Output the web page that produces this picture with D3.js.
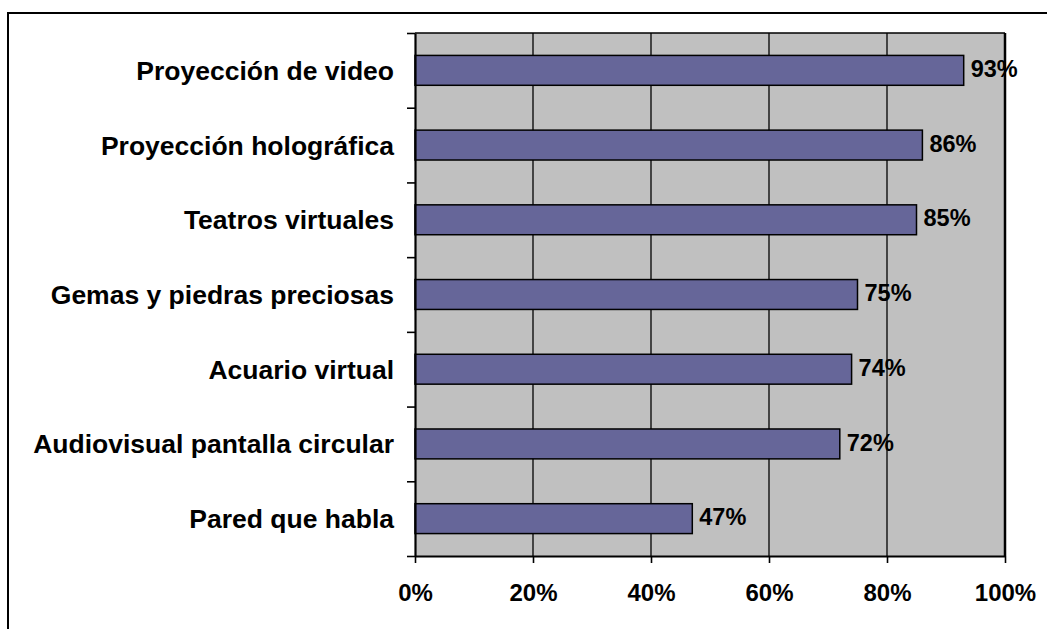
<!DOCTYPE html>
<html>
<head>
<meta charset="utf-8">
<script src="https://cdn.jsdelivr.net/npm/d3@7"></script>
<style>
  html, body { margin: 0; padding: 0; background: #fff; }
  svg { display: block; }
  text { font-family: "Liberation Sans", Arial, sans-serif; font-weight: bold; fill: #000; }
</style>
</head>
<body>
<svg id="chart" width="1047" height="629"></svg>
<script>
const categories = [
  "Proyección de video",
  "Proyección holográfica",
  "Teatros virtuales",
  "Gemas y piedras preciosas",
  "Acuario virtual",
  "Audiovisual pantalla circular",
  "Pared que habla"
];
const values = [0.93, 0.86, 0.85, 0.75, 0.74, 0.72, 0.47];
const valueLabels = ["93%", "86%", "85%", "75%", "74%", "72%", "47%"];
const xTicks = [0, 0.2, 0.4, 0.6, 0.8, 1.0];

(function () {
const svg = d3.select("#chart");
const W = 1047, H = 629;

// outer frame (right/bottom cropped off-image)
svg.append("rect")
  .attr("x", 8).attr("y", 13)
  .attr("width", W + 10).attr("height", H + 10)
  .attr("fill", "#fff").attr("stroke", "#000").attr("stroke-width", 2);

const pL = 415, pR = 1005, pT = 33, pB = 556;

const x = d3.scaleLinear().domain([0, 1]).range([pL, pR]);
const y = d3.scaleBand().domain(categories).range([pT, pB])
  .paddingInner(0.6).paddingOuter(0.3);
const yb = d3.scaleLinear().domain([0, categories.length]).range([pT, pB]);

// plot background
svg.append("rect")
  .attr("x", pL).attr("y", pT)
  .attr("width", pR - pL).attr("height", pB - pT)
  .attr("fill", "#C0C0C0");

// vertical gridlines
svg.append("g").selectAll("line")
  .data(xTicks.slice(1, -1))
  .join("line")
  .attr("x1", d => x(d)).attr("x2", d => x(d))
  .attr("y1", pT).attr("y2", pB)
  .attr("stroke", "#000").attr("stroke-width", 1.3);

// top border
svg.append("line")
  .attr("x1", pL).attr("x2", pR).attr("y1", pT).attr("y2", pT)
  .attr("stroke", "#000").attr("stroke-width", 1.3);
// right border
svg.append("line")
  .attr("x1", pR).attr("x2", pR).attr("y1", pT).attr("y2", pB)
  .attr("stroke", "#000").attr("stroke-width", 2.5);

// bars
svg.append("g").selectAll("rect")
  .data(categories)
  .join("rect")
  .attr("x", x(0))
  .attr("y", d => y(d))
  .attr("width", (d, i) => x(values[i]) - x(0))
  .attr("height", y.bandwidth())
  .attr("fill", "#666699")
  .attr("stroke", "#000").attr("stroke-width", 1.5);

// value labels
svg.append("g").selectAll("text")
  .data(categories)
  .join("text")
  .attr("x", (d, i) => x(values[i]) + 7)
  .attr("y", d => y(d) + y.bandwidth() / 2)
  .attr("dy", "0.28em")
  .attr("font-size", 23.5)
  .text((d, i) => valueLabels[i]);

// y axis (ticks at band boundaries)
const yAxis = d3.axisLeft(yb).tickValues(d3.range(categories.length + 1))
  .tickFormat("").tickSize(8).tickSizeOuter(0);
const gy = svg.append("g").attr("transform", `translate(${pL},0)`).call(yAxis);
gy.select(".domain").attr("stroke", "#000").attr("stroke-width", 2.2);
gy.selectAll(".tick line").attr("stroke", "#000").attr("stroke-width", 1.6);

// category labels
svg.append("g").selectAll("text")
  .data(categories)
  .join("text")
  .attr("x", pL - 21)
  .attr("y", d => y(d) + y.bandwidth() / 2)
  .attr("dy", "0.36em")
  .attr("text-anchor", "end")
  .attr("font-size", 26.5)
  .text(d => d);

// x axis
const xAxis = d3.axisBottom(x).tickValues(xTicks)
  .tickFormat(d3.format(".0%")).tickSize(7).tickSizeOuter(0).tickPadding(21);
const gx = svg.append("g").attr("transform", `translate(0,${pB})`).call(xAxis);
gx.select(".domain").attr("stroke", "#000").attr("stroke-width", 2.2);
gx.selectAll(".tick line").attr("stroke", "#000").attr("stroke-width", 1.6);
gx.selectAll(".tick text")
  .style("font-family", "'Liberation Sans', Arial, sans-serif")
  .style("font-weight", "bold")
  .attr("font-size", 24)
  .attr("fill", "#000");
})();
</script>
</body>
</html>
